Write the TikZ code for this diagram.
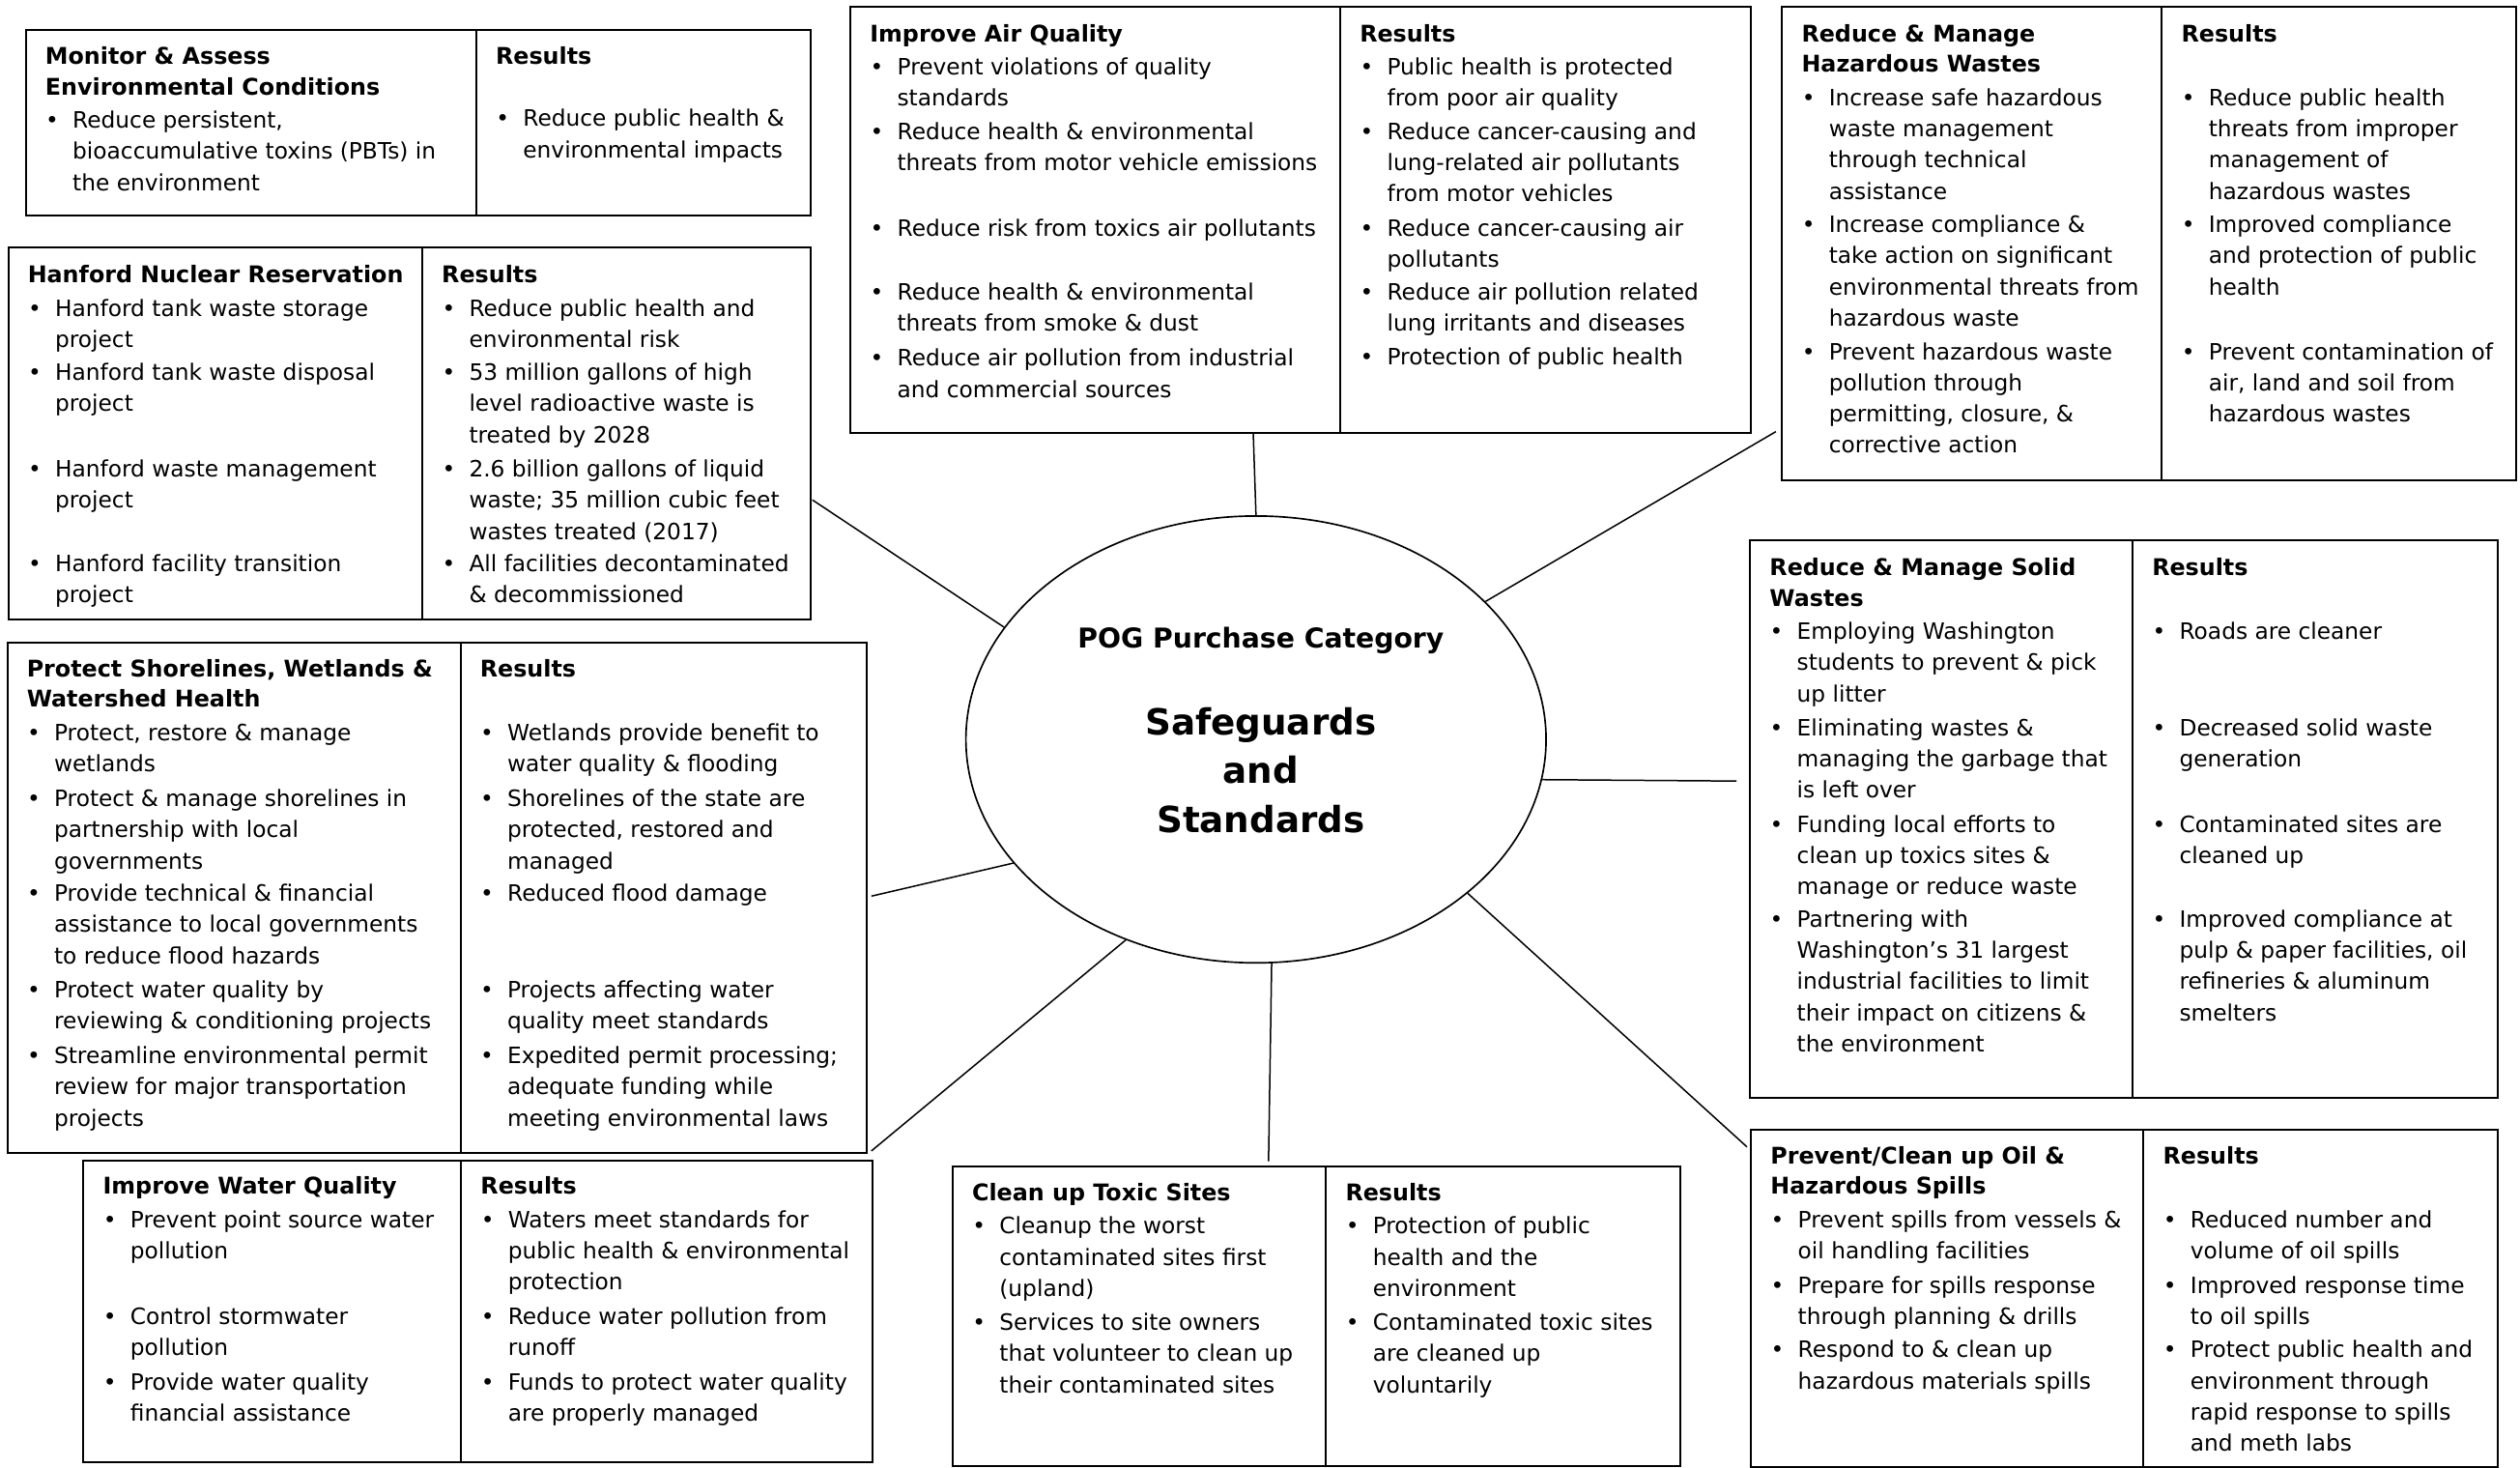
\documentclass[tikz,border=0pt]{standalone}
\usepackage{fontspec}
\setmainfont{DejaVu Sans}
\usetikzlibrary{shapes.geometric}
\newcounter{bn}
\tikzset{
  box/.style={draw, line width=1.2pt, inner sep=0pt, anchor=north west},
  conn/.style={line width=0.9pt},
  txt/.style={anchor=base west, inner sep=0pt, font=\fontsize{14}{17}\selectfont},
  ttl/.style={anchor=base west, inner sep=0pt, font=\fontsize{14.3}{17}\selectfont\bfseries},
  bdot/.style={anchor=base, inner sep=0pt, font=\fontsize{14}{17}\selectfont},
  ctr/.style={anchor=base, inner sep=0pt},
}
% two-part box: name, left, divider, right, top, bottom
\newcommand\TwoBox[6]{%
  \node[box, minimum width={#3-#2}, minimum height={#6-#5}] (#1L) at (#2,#5) {};
  \node[box, minimum width={#4-#3}, minimum height={#6-#5}] (#1R) at (#3,#5) {};
}
\newcommand\Ttl[4]{\node[ttl] (#1) at ({#2+12.5},{#3+5}) {#4};}
\newcommand\Bul[3]{%
  \stepcounter{bn}%
  \node[bdot] (d\thebn) at ({#1+17},{#2+4.7}) {\textbullet};
  \foreach \lin [count=\i from 0] in {#3}{%
    \node[txt] (t\thebn-\i) at ({#1+29.5},{#2+4.7+19.4*\i}) {\lin};
  }%
}
\begin{document}
\begin{tikzpicture}[x=1pt,y=-1pt]
\fill[white] (0,0) rectangle (1568,913);
\useasboundingbox (0,0) rectangle (1568,913);

% ---------- central ellipse ----------
\node[draw, ellipse, line width=1pt, minimum width=361pt, minimum height=278pt, inner sep=0pt] (ell) at (781.5,460) {};
\node[ctr, font=\fontsize{17}{20}\selectfont\bfseries] (pog) at (784.5,403.2) {POG Purchase Category};
\node[ctr, font=\fontsize{22.4}{26}\selectfont\bfseries] (sg1) at (784.5,457) {Safeguards};
\node[ctr, font=\fontsize{22.4}{26}\selectfont\bfseries] (sg2) at (784.5,487.5) {and};
\node[ctr, font=\fontsize{22.4}{26}\selectfont\bfseries] (sg3) at (784.5,518) {Standards};

% ---------- boxes ----------
\TwoBox{mon}{15.5}{295.8}{503.6}{18.2}{133.6}
\TwoBox{air}{528.6}{833.4}{1089}{3.4}{269}
\TwoBox{haz}{1108.3}{1344.6}{1564.8}{3.6}{298}
\TwoBox{han}{4.6}{262.2}{503.6}{153.6}{384.6}
\TwoBox{sho}{4}{286}{538.7}{399}{716.5}
\TwoBox{wat}{51.4}{286.4}{542.2}{721.5}{908.9}
\TwoBox{tox}{592.2}{824.5}{1045}{725}{911.5}
\TwoBox{oil}{1089}{1333.2}{1553.3}{702.4}{911.8}
\TwoBox{sol}{1088.4}{1326.4}{1553.3}{335.5}{682.4}

% ---------- connectors ----------
\coordinate (k1) at (505.5,311);
\coordinate (k2) at (779.8,269.6);
\coordinate (k3) at (1105,268.5);
\coordinate (k4) at (1080.4,485.9);
\coordinate (k5) at (1087,713.5);
\coordinate (k6) at (789.3,722.5);
\coordinate (k7) at (542.2,716);
\coordinate (k8) at (542.2,557.5);
\draw[conn] (k1) -- (ell.156);
\draw[conn] (k2) -- (ell.north);
\draw[conn] (k3) -- (ell.31);
\draw[conn] (k4) -- (ell.-8.3);
\draw[conn] (k5) -- (ell.-36.7);
\draw[conn] (k6) -- (ell.-86.8);
\draw[conn] (k7) -- (ell.-123.2);
\draw[conn] (k8) -- (ell.-153.7);

% ---------- Monitor & Assess ----------
\Ttl{monT1}{15.5}{35}{Monitor \& Assess}
\Ttl{monT2}{15.5}{54}{Environmental Conditions}
\Bul{15.5}{75}{{Reduce persistent,}, bioaccumulative toxins (PBTs) in, the environment}
\Ttl{monR1}{295.8}{35}{Results}
\Bul{295.8}{74}{Reduce public health \&, environmental impacts}

% ---------- Improve Air Quality ----------
\Ttl{airT1}{528.6}{21}{Improve Air Quality}
\Bul{528.6}{42}{Prevent violations of quality, standards}
\Bul{528.6}{82}{Reduce health \& environmental, threats from motor vehicle emissions}
\Bul{528.6}{142}{Reduce risk from toxics air pollutants}
\Bul{528.6}{182}{Reduce health \& environmental, threats from smoke \& dust}
\Bul{528.6}{223}{Reduce air pollution from industrial, and commercial sources}
\Ttl{airR1}{833.4}{21}{Results}
\Bul{833.4}{42}{Public health is protected, from poor air quality}
\Bul{833.4}{82}{Reduce cancer-causing and, lung-related air pollutants, from motor vehicles}
\Bul{833.4}{142}{Reduce cancer-causing air, pollutants}
\Bul{833.4}{182}{Reduce air pollution related, lung irritants and diseases}
\Bul{833.4}{222}{Protection of public health}

% ---------- Hazardous Wastes ----------
\Ttl{hazT1}{1108.3}{21}{Reduce \& Manage}
\Ttl{hazT2}{1108.3}{40}{Hazardous Wastes}
\Bul{1108.3}{61}{Increase safe hazardous, waste management, through technical, assistance}
\Bul{1108.3}{140}{Increase compliance \&, take action on significant, environmental threats from, hazardous waste}
\Bul{1108.3}{219}{Prevent hazardous waste, pollution through, {permitting, closure, \&}, corrective action}
\Ttl{hazR1}{1344.6}{21}{Results}
\Bul{1344.6}{61}{Reduce public health, threats from improper, management of, hazardous wastes}
\Bul{1344.6}{140}{Improved compliance, and protection of public, health}
\Bul{1344.6}{219}{Prevent contamination of, {air, land and soil from}, hazardous wastes}

% ---------- Hanford ----------
\Ttl{hanT1}{4.6}{171}{Hanford Nuclear Reservation}
\Bul{4.6}{192}{Hanford tank waste storage, project}
\Bul{4.6}{232}{Hanford tank waste disposal, project}
\Bul{4.6}{292}{Hanford waste management, project}
\Bul{4.6}{351}{Hanford facility transition, project}
\Ttl{hanR1}{262.2}{171}{Results}
\Bul{262.2}{192}{Reduce public health and, environmental risk}
\Bul{262.2}{232}{53 million gallons of high, level radioactive waste is, treated by 2028}
\Bul{262.2}{292}{2.6 billion gallons of liquid, waste; 35 million cubic feet, wastes treated (2017)}
\Bul{262.2}{351}{All facilities decontaminated, \& decommissioned}

% ---------- Shorelines ----------
\Ttl{shoT1}{4}{416}{Protect Shorelines, Wetlands \&}
\Ttl{shoT2}{4}{435}{Watershed Health}
\Bul{4}{456}{{Protect, restore \& manage}, wetlands}
\Bul{4}{497}{Protect \& manage shorelines in, partnership with local, governments}
\Bul{4}{556}{Provide technical \& financial, assistance to local governments, to reduce flood hazards}
\Bul{4}{616}{Protect water quality by, reviewing \& conditioning projects}
\Bul{4}{657}{Streamline environmental permit, review for major transportation, projects}
\Ttl{shoR1}{286}{416}{Results}
\Bul{286}{456}{Wetlands provide benefit to, water quality \& flooding}
\Bul{286}{497}{Shorelines of the state are, {protected, restored and}, managed}
\Bul{286}{556}{Reduced flood damage}
\Bul{286}{616}{Projects affecting water, quality meet standards}
\Bul{286}{657}{Expedited permit processing;, adequate funding while, meeting environmental laws}

% ---------- Water Quality ----------
\Ttl{watT1}{51.4}{738}{Improve Water Quality}
\Bul{51.4}{759}{Prevent point source water, pollution}
\Bul{51.4}{819}{Control stormwater, pollution}
\Bul{51.4}{860}{Provide water quality, financial assistance}
\Ttl{watR1}{286.4}{738}{Results}
\Bul{286.4}{759}{Waters meet standards for, public health \& environmental, protection}
\Bul{286.4}{819}{Reduce water pollution from, runoff}
\Bul{286.4}{860}{Funds to protect water quality, are properly managed}

% ---------- Toxic Sites ----------
\Ttl{toxT1}{592.2}{742}{Clean up Toxic Sites}
\Bul{592.2}{763}{Cleanup the worst, contaminated sites first, (upland)}
\Bul{592.2}{823}{Services to site owners, that volunteer to clean up, their contaminated sites}
\Ttl{toxR1}{824.5}{742}{Results}
\Bul{824.5}{763}{Protection of public, health and the, environment}
\Bul{824.5}{823}{Contaminated toxic sites, are cleaned up, voluntarily}

% ---------- Oil Spills ----------
\Ttl{oilT1}{1089}{719}{Prevent/Clean up Oil \&}
\Ttl{oilT2}{1089}{738}{Hazardous Spills}
\Bul{1089}{759}{Prevent spills from vessels \&, oil handling facilities}
\Bul{1089}{800}{Prepare for spills response, through planning \& drills}
\Bul{1089}{840}{Respond to \& clean up, hazardous materials spills}
\Ttl{oilR1}{1333.2}{719}{Results}
\Bul{1333.2}{759}{Reduced number and, volume of oil spills}
\Bul{1333.2}{800}{Improved response time, to oil spills}
\Bul{1333.2}{840}{Protect public health and, environment through, rapid response to spills, and meth labs}

% ---------- Solid Wastes ----------
\Ttl{solT1}{1088.4}{353}{Reduce \& Manage Solid}
\Ttl{solT2}{1088.4}{372}{Wastes}
\Bul{1088.4}{393}{Employing Washington, students to prevent \& pick, up litter}
\Bul{1088.4}{453}{Eliminating wastes \&, managing the garbage that, is left over}
\Bul{1088.4}{513}{Funding local efforts to, clean up toxics sites \&, manage or reduce waste}
\Bul{1088.4}{572}{Partnering with, Washington’s 31 largest, industrial facilities to limit, their impact on citizens \&, the environment}
\Ttl{solR1}{1326.4}{353}{Results}
\Bul{1326.4}{393}{Roads are cleaner}
\Bul{1326.4}{453}{Decreased solid waste, generation}
\Bul{1326.4}{513}{Contaminated sites are, cleaned up}
\Bul{1326.4}{572}{Improved compliance at, {pulp \& paper facilities, oil}, refineries \& aluminum, smelters}
\end{tikzpicture}
\end{document}
